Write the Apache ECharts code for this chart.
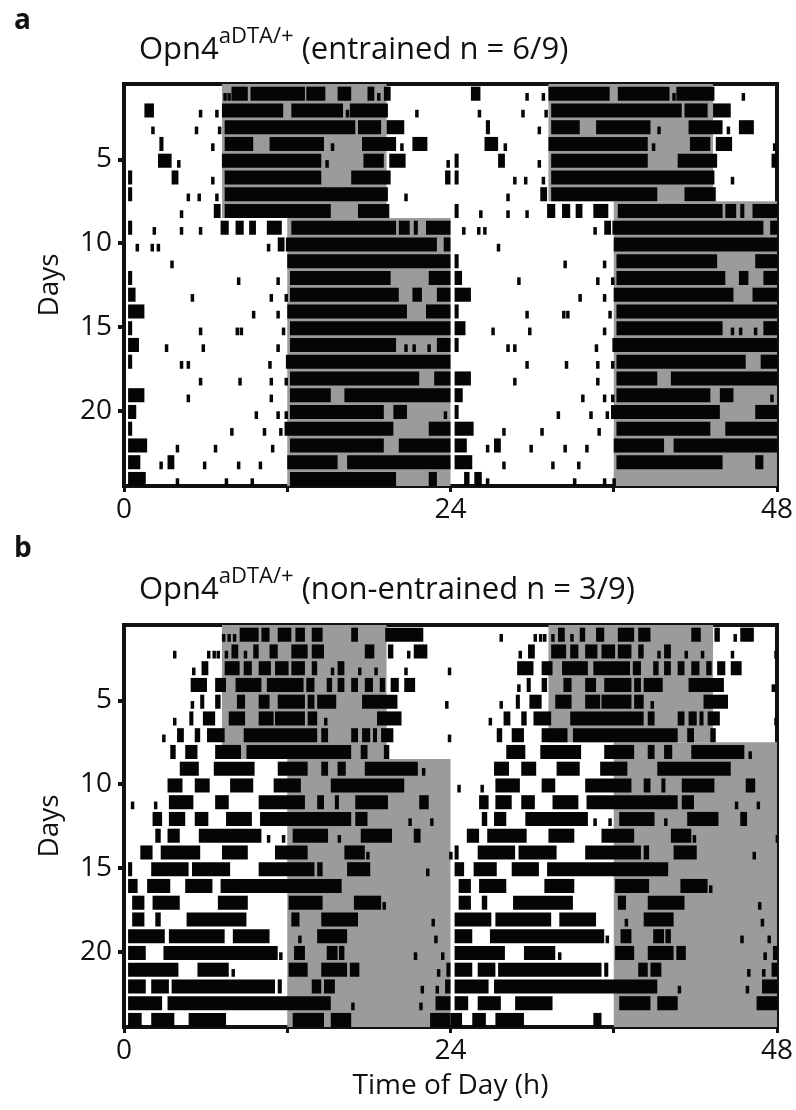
<!DOCTYPE html>
<html>
<head>
<meta charset="utf-8">
<script src="https://cdn.jsdelivr.net/npm/echarts@6/dist/echarts.min.js"></script>
<style>
  html, body { margin: 0; padding: 0; background: #fff; }
  #chart { width: 796px; height: 1110px; }
</style>
</head>
<body>
<div id="chart"></div>
<script>
(function () {
  "use strict";

  // activity bouts per day, [start h, end h] (day 1 .. day 25)
  var entrainedDays = [
    [[7.3, 7.45], [7.6, 7.75], [7.9, 9.1], [9.3, 13.3], [13.4, 14.8], [15.7, 16.7], [17.9, 18.4], [18.6, 18.75], [19.1, 19.6]],
    [[1.5, 2.2], [5.5, 5.6], [6.7, 6.8], [7.2, 11.7], [12.3, 16.1], [16.3, 16.4], [16.6, 19.4], [21.4, 21.5]],
    [[2.0, 2.2], [5.2, 5.3], [6.9, 7.0], [7.4, 17.0], [17.2, 18.9], [19.3, 20.6]],
    [[2.6, 2.9], [6.4, 6.5], [7.4, 9.5], [10.7, 14.7], [15.2, 15.3], [17.5, 20.0], [20.3, 20.4], [21.2, 22.3]],
    [[2.5, 3.5], [3.9, 4.0], [7.2, 14.5], [14.8, 14.9], [17.6, 19.1], [19.5, 20.7], [23.7, 23.8]],
    [[0.3, 0.6], [3.5, 4.0], [6.4, 6.6], [7.4, 14.5], [16.7, 19.6], [23.6, 24.0]],
    [[0.3, 0.6], [4.6, 4.7], [5.4, 5.5], [6.7, 6.9], [7.4, 19.4], [20.6, 20.7]],
    [[4.1, 4.2], [6.6, 7.1], [7.4, 15.2], [17.2, 19.5]],
    [[0.3, 0.6], [2.1, 2.2], [4.1, 4.2], [5.5, 5.6], [7.1, 7.7], [8.2, 8.8], [9.2, 9.7], [10.5, 11.6], [12.3, 20.0], [20.2, 21.0], [21.3, 21.6], [22.2, 24.0]],
    [[0.85, 0.95], [1.95, 2.05], [2.4, 2.5], [10.5, 10.6], [11.3, 11.8], [11.9, 23.0], [23.5, 24.0]],
    [[3.4, 3.5], [12.0, 24.0]],
    [[0.3, 0.6], [8.3, 8.4], [11.2, 11.3], [12.2, 19.6], [22.4, 24.0]],
    [[0.3, 0.85], [4.9, 5.0], [10.7, 10.8], [11.8, 11.9], [12.2, 20.2], [21.2, 21.9], [23.0, 24.0]],
    [[0.3, 1.5], [9.4, 9.5], [11.2, 11.3], [12.0, 20.8], [22.2, 24.0]],
    [[0.3, 0.6], [5.5, 5.6], [8.2, 8.3], [8.5, 8.6], [11.6, 11.7], [12.2, 24.0]],
    [[0.3, 1.1], [3.0, 3.1], [5.7, 5.8], [11.2, 11.3], [12.2, 20.0], [20.6, 20.7], [21.2, 21.4], [22.3, 22.5], [23.0, 24.0]],
    [[0.3, 0.6], [4.1, 4.2], [4.6, 4.7], [10.6, 10.7], [11.9, 24.0]],
    [[5.5, 5.6], [8.4, 8.5], [10.7, 10.8], [11.8, 11.9], [12.2, 21.7], [22.8, 24.0]],
    [[0.3, 1.5], [4.6, 4.7], [10.7, 10.8], [12.2, 15.2], [16.2, 24.0]],
    [[0.3, 0.9], [9.6, 9.7], [11.2, 11.3], [11.8, 11.9], [12.2, 19.1], [19.8, 20.8], [23.5, 23.6]],
    [[0.3, 0.6], [7.8, 7.9], [10.2, 10.3], [11.4, 11.5], [11.8, 19.8], [22.4, 24.0]],
    [[0.3, 1.7], [3.8, 3.9], [6.6, 6.7], [10.8, 10.9], [12.2, 19.1], [20.2, 24.0]],
    [[0.3, 1.2], [2.6, 2.75], [3.2, 3.7], [5.8, 5.9], [8.3, 8.4], [9.9, 10.0], [12.0, 15.7], [16.4, 24.0]],
    [[0.3, 1.6], [3.8, 3.9], [7.4, 7.5], [9.3, 9.4], [12.2, 20.0], [22.4, 23.0]],
    [[1.0, 1.4], [1.75, 2.3], [2.6, 2.8], [9.0, 9.1], [11.2, 11.3], [11.9, 12.0]]
  ];

  var freeRunDays = [
    [[7.2, 7.35], [7.6, 7.75], [8.0, 8.2], [8.5, 9.9], [10.1, 10.7], [11.3, 12.3], [12.6, 13.3], [13.8, 14.6], [16.7, 17.2], [19.2, 22.0]],
    [[3.6, 3.7], [6.1, 6.25], [6.5, 6.6], [6.8, 6.9], [7.4, 7.5], [7.9, 8.4], [8.8, 9.0], [9.5, 9.9], [10.7, 11.3], [12.3, 13.5], [13.8, 14.7], [17.7, 18.4], [19.4, 19.8], [20.8, 20.9], [21.3, 22.3]],
    [[5.0, 5.1], [5.7, 6.2], [7.4, 8.5], [8.8, 9.4], [9.9, 10.8], [11.1, 12.1], [12.3, 13.3], [13.8, 14.2], [15.2, 15.3], [15.7, 16.2], [17.2, 17.4], [18.4, 18.6], [20.6, 20.7], [23.8, 23.9]],
    [[4.9, 6.1], [6.7, 7.5], [8.2, 10.1], [10.5, 13.2], [13.4, 14.0], [14.9, 15.3], [15.7, 16.2], [16.7, 17.2], [17.7, 18.3], [18.8, 19.2], [19.6, 20.2], [20.6, 21.4]],
    [[4.9, 5.0], [5.6, 5.9], [6.7, 7.1], [8.3, 8.9], [9.9, 10.7], [11.3, 13.3], [13.5, 14.0], [14.2, 15.6], [17.5, 20.1], [23.6, 23.7]],
    [[3.6, 3.7], [4.8, 5.1], [5.8, 6.7], [7.7, 8.9], [9.9, 11.0], [11.1, 13.3], [13.5, 14.2], [14.7, 14.8], [18.6, 20.4]],
    [[2.8, 2.9], [3.9, 4.4], [5.2, 5.6], [6.1, 7.4], [8.8, 14.2], [14.5, 15.0], [16.7, 17.2], [17.5, 18.1], [18.3, 18.6], [18.9, 19.8], [23.8, 23.9]],
    [[3.4, 3.8], [4.5, 5.4], [6.7, 8.6], [9.0, 16.7], [17.4, 17.9], [19.1, 19.5]],
    [[4.1, 5.5], [6.6, 9.6], [11.3, 13.5], [14.5, 15.0], [15.7, 16.3], [17.7, 21.6], [21.9, 22.0]],
    [[3.2, 4.3], [5.2, 6.3], [7.8, 9.5], [11.0, 13.0], [15.2, 20.6]],
    [[0.5, 0.6], [2.2, 2.3], [3.3, 5.1], [6.7, 7.7], [9.9, 13.3], [14.2, 14.7], [15.5, 15.8], [17.0, 19.4], [21.7, 22.4]],
    [[2.1, 2.8], [3.3, 4.5], [5.2, 6.2], [7.5, 9.4], [10.0, 16.7], [17.0, 17.9], [20.9, 21.0], [22.5, 22.6]],
    [[2.3, 2.7], [3.2, 4.1], [5.5, 10.1], [10.5, 10.6], [11.6, 11.7], [12.4, 15.0], [15.7, 15.8], [17.4, 19.7], [21.3, 21.8]],
    [[1.2, 2.1], [2.7, 5.6], [7.2, 9.1], [11.1, 13.5], [16.2, 17.7], [17.8, 17.9], [23.9, 24.0]],
    [[0.3, 0.6], [2.0, 4.75], [5.0, 7.8], [9.9, 14.0], [14.2, 14.6], [16.4, 18.1], [22.2, 22.3]],
    [[0.3, 1.0], [1.7, 3.4], [4.5, 6.5], [7.1, 16.0]],
    [[0.6, 1.5], [2.1, 4.1], [6.9, 9.1], [12.1, 14.6], [16.9, 18.9], [19.0, 19.1]],
    [[0.6, 1.5], [2.3, 2.7], [4.6, 9.0], [12.3, 12.9], [14.5, 17.2], [22.6, 22.7]],
    [[0.3, 3.0], [3.3, 7.4], [8.0, 10.7], [12.8, 12.9], [14.2, 16.4], [22.8, 22.9]],
    [[0.3, 1.6], [2.9, 11.3], [11.4, 11.5], [12.5, 13.3], [14.9, 15.7], [15.8, 16.2], [21.3, 21.4], [23.3, 23.4]],
    [[0.3, 4.0], [5.4, 7.7], [7.9, 8.0], [12.1, 13.5], [14.5, 16.4], [16.6, 17.3], [23.0, 23.1], [23.7, 24.0]],
    [[0.3, 1.6], [2.0, 3.3], [3.5, 11.1], [11.3, 11.6], [13.8, 14.5], [14.7, 15.5], [21.8, 21.9], [22.9, 23.0], [23.6, 24.0]],
    [[0.3, 2.8], [3.2, 15.2], [16.7, 16.8], [21.7, 21.8], [22.9, 24.0]],
    [[0.3, 1.3], [2.0, 3.7], [4.75, 7.5], [12.4, 14.7], [15.2, 16.7], [22.5, 24.0]],
    [[0.0, 0.85], [1.6, 2.6], [3.3, 5.4], [10.5, 11.1]]
  ];

  // lights-off schedule: [first day, last day, off h, on h]
  var darkSchedule = [[1, 8, 7.2, 19.3], [9, 25, 12, 24]];

  var dayTicks = [5, 10, 15, 20];
  var hourLabels = [0, 24, 48];
  var rowCount = 24;
  var font = "Open Sans";
  var ink = "#111";

  // double plot: day d on row d (0-24 h) and on row d-1 (24-48 h)
  function toBouts(days) {
    var out = [];
    days.forEach(function (bouts, i) {
      var day = i + 1;
      bouts.forEach(function (b) {
        if (day <= rowCount) out.push([b[0], b[1], day]);
        if (day >= 2) out.push([b[0] + 24, b[1] + 24, day - 1]);
      });
    });
    return out;
  }

  function toDark() {
    var out = [];
    darkSchedule.forEach(function (s) {
      var r0 = s[0], r1 = Math.min(s[1], rowCount);
      if (r0 <= r1) out.push([s[2], s[3], r0 - 0.5, r1 + 0.5]);
      var q0 = Math.max(s[0] - 1, 1), q1 = Math.min(s[1] - 1, rowCount);
      if (q0 <= q1) out.push([s[2] + 24, s[3] + 24, q0 - 0.5, q1 + 0.5]);
    });
    return out;
  }

  function renderDark(params, api) {
    var a = api.coord([api.value(0), api.value(2)]);
    var b = api.coord([api.value(1), api.value(3)]);
    return { type: "rect", shape: { x: a[0], y: a[1], width: b[0] - a[0], height: b[1] - a[1] }, style: { fill: "#9b9b9b" } };
  }

  function renderBout(params, api) {
    var x0 = api.value(0), x1 = api.value(1), row = api.value(2);
    var tall = (x1 - x0) >= 0.25 ? 0.84 : 0.46;
    var base = api.coord([x0, row + 0.5]);
    var end = api.coord([x1, row + 0.5]);
    var top = api.coord([x0, row + 0.5 - tall]);
    return {
      type: "rect",
      shape: { x: base[0], y: top[1], width: Math.max(end[0] - base[0], 3.5), height: base[1] - top[1] },
      style: { fill: "#050505" }
    };
  }

  var grids = [
    { left: 124, width: 656, top: 84, height: 402, show: true, borderColor: ink, borderWidth: 4 },
    { left: 124, width: 656, top: 625, height: 402, show: true, borderColor: ink, borderWidth: 4 }
  ];

  function xAxisFor(i) {
    return {
      gridIndex: i, type: "value", min: 0, max: 48, interval: 12,
      axisLine: { lineStyle: { color: ink, width: 4 } },
      axisTick: { length: 6, lineStyle: { color: ink, width: 3 } },
      axisLabel: {
        fontSize: 28, fontFamily: font, color: ink, margin: 10,
        formatter: function (v) { return hourLabels.indexOf(v) >= 0 ? String(v) : ""; }
      },
      splitLine: { show: false },
      name: i === 1 ? "Time of Day (h)" : "", nameLocation: "middle", nameGap: 45,
      nameTextStyle: { fontSize: 28, fontFamily: font, color: ink }
    };
  }

  function yAxisFor(i) {
    return {
      gridIndex: i, type: "value", inverse: true, min: 0.5, max: rowCount + 0.5,
      axisLine: { lineStyle: { color: ink, width: 4 } },
      axisTick: { customValues: dayTicks, length: 6, lineStyle: { color: ink, width: 4 } },
      axisLabel: { customValues: dayTicks, fontSize: 28, fontFamily: font, color: ink, margin: 12 },
      splitLine: { show: false },
      name: "Days", nameLocation: "middle", nameGap: 60, nameRotate: 90,
      nameTextStyle: { fontSize: 28, fontFamily: font, color: ink }
    };
  }

  function titleRich(rest) {
    return "{m|Opn4}{s|aDTA/+}{m| " + rest + "}";
  }
  var rich = {
    m: { fontSize: 31, fontFamily: font, fontWeight: "normal", color: ink, verticalAlign: "bottom", lineHeight: 40 },
    s: { fontSize: 22, fontFamily: font, fontWeight: "normal", color: ink, verticalAlign: "top", lineHeight: 22 }
  };

  var chart = echarts.init(document.getElementById("chart"), null, { renderer: "canvas" });
  chart.setOption({
    animation: false,
    backgroundColor: "#fff",
    title: [
      { text: "a", left: 9, top: 2, textStyle: { fontSize: 28, fontWeight: "bold", fontFamily: font, color: ink } },
      { text: titleRich("(entrained n = 6/9)"), left: 134, top: 21, textStyle: { fontWeight: "normal", rich: rich } },
      { text: "b", left: 9, top: 530, textStyle: { fontSize: 28, fontWeight: "bold", fontFamily: font, color: ink } },
      { text: titleRich("(non-entrained n = 3/9)"), left: 134, top: 561, textStyle: { fontWeight: "normal", rich: rich } }
    ],
    grid: grids,
    xAxis: [xAxisFor(0), xAxisFor(1)],
    yAxis: [yAxisFor(0), yAxisFor(1)],
    series: [
      { type: "custom", xAxisIndex: 0, yAxisIndex: 0, renderItem: renderDark, data: toDark(), silent: true, z: 1 },
      { type: "custom", xAxisIndex: 0, yAxisIndex: 0, renderItem: renderBout, data: toBouts(entrainedDays), silent: true, z: 2, clip: true },
      { type: "custom", xAxisIndex: 1, yAxisIndex: 1, renderItem: renderDark, data: toDark(), silent: true, z: 1 },
      { type: "custom", xAxisIndex: 1, yAxisIndex: 1, renderItem: renderBout, data: toBouts(freeRunDays), silent: true, z: 2, clip: true }
    ]
  });
})();
</script>
</body>
</html>
